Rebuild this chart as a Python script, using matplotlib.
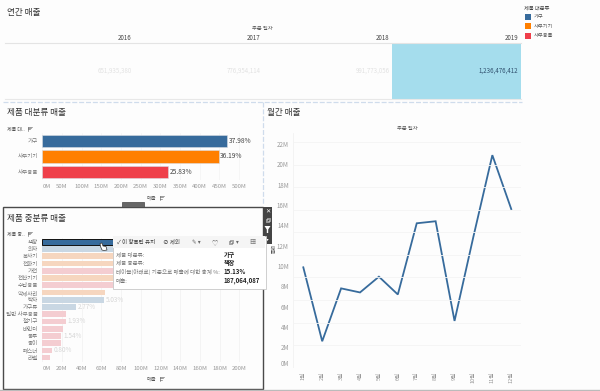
import matplotlib
matplotlib.use("Agg")
import matplotlib.pyplot as plt
from matplotlib.patches import Rectangle, Polygon

plt.rcParams['font.family'] = ['Noto Sans CJK KR', 'DejaVu Sans']

# ---- data ----
years = ['2016', '2017', '2018', '2019']
year_sales = [651935380, 776954114, 991773056, 1236476412]
major = ['가구', '사무기기', '사무용품']
major_sales = [471, 449, 320]
major_pct = ['37.98%', '36.19%', '25.83%']
major_ticks = [0, 50, 100, 150, 200, 250, 300, 350, 400, 450, 500]
sub = ['책장', '의자', '복사기', '전화기', '가전', '전산기기', '수납용품', '악세사리', '탁자', '가구류',
       '일반 사무용품', '철기구', '바인더', '봉투', '종이', '패스너', '라벨']
sub_major = [0, 0, 1, 1, 2, 1, 2, 1, 0, 0, 2, 2, 2, 2, 2, 2, 2]
sub_sales = [187, 172, 150, 140, 125, 112, 100, 64, 62.4, 34.5, 24.3, 23.9, 21, 19.1, 18.5, 9.9, 8.2]
sub_pct = {8: '5.03%', 9: '2.77%', 11: '1.93%', 13: '1.54%', 15: '0.80%'}
sub_ticks = [0, 20, 40, 60, 80, 100, 120, 140, 160, 180, 200]
months = ['1월', '2월', '3월', '4월', '5월', '6월', '7월', '8월', '9월', '10월', '11월', '12월']
month_sales = [9.87, 2.6, 7.8, 7.4, 8.95, 7.2, 14.2, 14.4, 4.6, 12.9, 20.9, 15.6]
month_ticks = [0, 2, 4, 6, 8, 10, 12, 14, 16, 18, 20, 22]
month_grid = [2.22, 4.44, 6.66, 8.88, 11.1, 13.32, 15.54, 17.76, 19.98, 22.2]

COL = ['#376b9c', '#ff7f00', '#ef3f4a']
FADE = ['#c9d7e3', '#f6d6bf', '#f4cdd1']
BG = '#fdfdfd'
W, H = 600, 391

fig = plt.figure(figsize=(6.0, 3.91), dpi=100, facecolor=BG)


def axpx(x0, y0, x1, y1, **kw):
    return fig.add_axes([x0 / W, 1 - y1 / H, (x1 - x0) / W, (y1 - y0) / H], **kw)


def clean(ax):
    ax.set_facecolor('none')
    for s in ax.spines.values():
        s.set_visible(False)


# ---- annual table ----
a = axpx(5, 43, 520.5, 99)
clean(a)
a.bar(range(4), [1] * 4, width=1, color=['none', 'none', 'none', '#a5dded'])
a.set_xlim(-0.5, 3.5)
a.set_ylim(0, 1)
a.set_yticks([])
a.set_xticks([])
a.plot([-0.5, 3.5], [1, 1], color='#e4e4e4', lw=0.8, clip_on=False)
a.plot([-0.5, 3.5], [0, 0], color='#e8e8e8', lw=0.8, clip_on=False)
for i, (y, v) in enumerate(zip(years, year_sales)):
    a.text(i + 0.485, 1.02, y, ha='right', va='bottom', fontsize=4.4, color='#444444')
    a.text(i + 0.485, 0.5, f'{v:,}', ha='right', va='center', fontsize=4.4,
           color='#30506e' if i == 3 else '#e2e2e2')

# ---- major category bars ----
b = axpx(42.3, 133, 260, 180)
clean(b)
b.barh(range(3), major_sales, height=0.8, color=COL, edgecolor='#d9dde3', linewidth=0.4)
b.set_ylim(2.55, -0.55)
b.set_xlim(0, (260 - 42.3) / 0.393)
b.set_xticks(major_ticks)
b.set_xticklabels([f'{t}M' for t in major_ticks], fontsize=4.3, color='#999999')
b.get_xticklabels()[0].set_ha('left')
b.set_yticks(range(3))
b.set_yticklabels(major, fontsize=4, color='#777777')
b.tick_params(length=0, pad=3)
b.grid(axis='x', color='#f3f3f3', lw=0.5)
b.set_axisbelow(True)
b.plot([0, 1], [0, 0], transform=b.transAxes, color='#eeeeee', lw=0.6)
for i, (v, p) in enumerate(zip(major_sales, major_pct)):
    b.text(v + 4, i, p, va='center', fontsize=4.8, color='#444444')

# ---- sub category bars ----
c = axpx(42.3, 237.5, 260, 362)
clean(c)
c.barh(range(len(sub)), sub_sales, height=0.78,
       color=[COL[m] if i == 0 else FADE[m] for i, m in enumerate(sub_major)],
       edgecolor=['#111111'] + ['none'] * (len(sub) - 1), linewidth=0.7)
c.set_ylim(len(sub) - 0.4, -0.6)
c.set_xlim(0, (260 - 42.3) / 0.985)
c.set_xticks(sub_ticks)
c.set_xticklabels([f'{t}M' for t in sub_ticks], fontsize=4.3, color='#999999')
c.get_xticklabels()[0].set_ha('left')
c.set_yticks(range(len(sub)))
c.set_yticklabels(sub, fontsize=4, color='#777777')
c.tick_params(length=0, pad=3)
c.grid(axis='x', color='#f1f1f1', lw=0.5)
c.set_axisbelow(True)
for i, p in sub_pct.items():
    c.text(sub_sales[i] + 2, i, p, va='center', fontsize=4.6, color='#d6d6d6')

# ---- monthly line ----
d = axpx(293, 133, 520.7, 367.7)
clean(d)
d.plot(range(12), month_sales, color='#376b9c', lw=1.3, solid_joinstyle='miter')
d.set_xlim(-0.545, 11.5)
d.set_ylim(0, (367.7 - 133) / 10.17)
d.set_yticks(month_ticks)
d.set_yticklabels([f'{t}M' for t in month_ticks], fontsize=4.4, color='#999999')
d.get_yticklabels()[0].set_va('bottom')
d.set_xticks(range(12))
d.set_xticklabels(months, rotation=90, fontsize=4, color='#999999')
d.tick_params(length=0, pad=3)
d.hlines(month_grid, -0.545, 11.5, color='#f4f4f4', lw=0.6)
d.plot([0, 0], [0, 1], transform=d.transAxes, color='#f2f2f2', lw=0.6)
d.plot([0, 1], [0, 0], transform=d.transAxes, color='#f0f0f0', lw=0.6)

# ---- overlay: pixel space ----
o = fig.add_axes([0, 0, 1, 1], zorder=10)
o.set_xlim(0, W)
o.set_ylim(H, 0)
o.axis('off')
o.patch.set_alpha(0)


def sort_icon(x, y):
    """Tableau's small sort glyph; no installed font has it."""
    o.plot([x, x], [y - 2, y + 2], color='#555555', lw=0.4)
    for k, ln in enumerate([3.6, 2.6, 1.6]):
        o.plot([x, x + ln], [y - 2 + k * 1.3] * 2, color='#555555', lw=0.4)


def copy_icon(x, y, col, s=3.0):
    o.add_patch(Rectangle((x - s / 2 + 0.7, y - s / 2 - 0.7), s, s, fill=False, ec=col, lw=0.4))
    o.add_patch(Rectangle((x - s / 2 - 0.3, y - s / 2 + 0.3), s, s, fill=False, ec=col, lw=0.4))


DK = '#333333'
o.text(7, 12.5, '연간 매출', fontsize=6.2, color=DK, va='center', fontweight='medium')
o.text(7, 112.5, '제품 대분류 매출', fontsize=6.2, color=DK, va='center', fontweight='medium')
o.text(7, 218, '제품 중분류 매출', fontsize=6.2, color=DK, va='center', fontweight='medium')
o.text(267, 112.5, '월간 매출', fontsize=6.2, color=DK, va='center', fontweight='medium')
o.text(262, 29, '주문 일자', fontsize=3.8, color='#555555', ha='center', va='center')
o.text(407, 128.5, '주문 일자', fontsize=3.8, color='#555555', ha='center', va='center')
o.text(7, 129, '제품 대..', fontsize=3.6, color='#555555', va='center')
sort_icon(28, 128.5)
o.text(7, 234, '제품 중..', fontsize=3.6, color='#555555', va='center')
sort_icon(28, 233.5)
o.text(151, 198, '매출', fontsize=3.8, color='#555555', ha='center', va='center')
sort_icon(160, 198)
o.text(151, 379.5, '매출', fontsize=3.8, color='#555555', ha='center', va='center')
sort_icon(160, 379)

# legend
o.text(524, 8, '제품 대분류', fontsize=3.8, color='#444444', va='center')
for i, (m, col) in enumerate(zip(major, COL)):
    y0 = 14 + i * 9.3
    o.add_patch(Rectangle((525.3, y0), 6, 6, color=col, lw=0))
    o.text(534, y0 + 3, m, fontsize=3.8, color='#555555', va='center')

# dashed dividers
o.plot([3, 522], [101.5, 101.5], color='#cfdcec', lw=0.9, ls=(0, (4, 1.5)))
o.plot([263, 263], [101.5, 205], color='#cfdcec', lw=0.9, ls=(0, (4, 1.5)))

# selected panel frame and toolbar
o.add_patch(Rectangle((3, 207), 260, 181.5, fill=False, ec='#4a4a4a', lw=1.0))
o.add_patch(Rectangle((122, 202), 22, 4.8, fc='#666666', ec='#444444', lw=0.5))
o.plot([0, 600], [390, 390], color='#bbbbbb', lw=1.0)
o.add_patch(Rectangle((263, 207), 9, 37, fc='#444444', lw=0))
o.text(267.5, 212, '✕', fontsize=4.5, color='white', ha='center', va='center', family='DejaVu Sans')
copy_icon(267.5, 220, '#dddddd')
o.add_patch(Polygon([(264.5, 226), (270.5, 226), (268.2, 229.5), (268.2, 233), (266.8, 233), (266.8, 229.5)],
                    fc='white', lw=0))
o.add_patch(Polygon([(266.4, 239), (268.6, 239), (267.5, 241)], fc='white', lw=0))
o.text(271.8, 250, '매출', fontsize=3.6, color='#555555', rotation=270, ha='center', va='center')

# tooltip
o.add_patch(Rectangle((113, 236), 152.5, 53, fc='#ffffff', ec='#c8c8c8', lw=0.6))
o.add_patch(Rectangle((113.3, 236.3), 152, 11.5, fc='#f5f5f5', lw=0))
y = 242
o.text(117, y, '✓ 이 항목만 유지', fontsize=4, color='#333333', va='center')
o.text(163, y, '⊘ 제외', fontsize=4, color='#444444', va='center')
o.text(192, y, '✎ ▾', fontsize=4, color='#666666', va='center')
o.text(212, y, '♡', fontsize=4.5, color='#666666', va='center')
copy_icon(231, y, '#666666')
o.text(236, y, '▾', fontsize=4, color='#666666', va='center')
o.text(249, y, '▦', fontsize=4.5, color='#777777', va='center')
rows = [('제품 대분류:', '가구', 254.5), ('제품 중분류:', '책장', 263),
        ('테이블(아래로) 기준으로 매출에 대한 총계 %:', '15.13%', 271.5), ('매출:', '187,064,087', 280.5)]
for lab, val, yy in rows:
    o.text(115.5, yy, lab, fontsize=4, color='#777777', va='center')
    o.text(223.5, yy, val, fontsize=4.4, color='#222222', va='center', fontweight='bold')

# hand cursor
o.add_patch(Polygon([(100, 243.5), (102, 243), (103, 246), (106, 246.5), (107, 250), (104, 250.5), (102, 250), (100.5, 246.5)],
                    fc='white', ec='#333333', lw=0.5))

fig.savefig('out.png', dpi=100, facecolor=BG)
